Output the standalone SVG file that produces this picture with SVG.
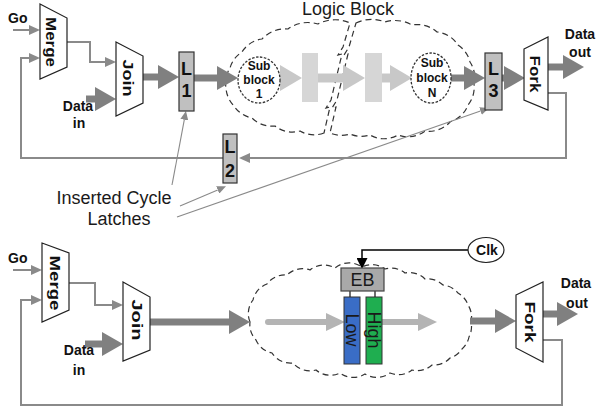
<svg xmlns="http://www.w3.org/2000/svg" width="597" height="410" viewBox="0 0 597 410">
<style>
.thin{stroke:#8a8a8a;stroke-width:2;fill:none}
.fine{stroke:#8a8a8a;stroke-width:1.1;fill:none}
.thick{stroke:#808080;stroke-width:7;fill:none}
.light{stroke:#c8c8c8;stroke-width:9;fill:none}
.light2{stroke:#b4b4b4;stroke-width:6;fill:none;stroke-linecap:round}
.shape{fill:#fff;stroke:#222;stroke-width:1.2}
.latch{fill:#c0c0c0;stroke:#333;stroke-width:1.2}
.stage{fill:#d6d6d6;stroke:none}
.cloud{fill:none;stroke:#333;stroke-width:1.2;stroke-dasharray:6 4}
.sub{fill:#fff;stroke:#333;stroke-width:1.3;stroke-dasharray:2.5 1.5}
.b{font-family:"Liberation Sans",Arial,sans-serif;font-weight:bold;font-size:14px;fill:#111}
.n{font-family:"Liberation Sans",Arial,sans-serif;font-size:18px;fill:#1a1a1a}
.sb{font-family:"Liberation Sans",Arial,sans-serif;font-weight:bold;font-size:12px;fill:#111;text-anchor:middle}
.lt{font-family:"Liberation Sans",Arial,sans-serif;font-weight:bold;font-size:18px;fill:#111;text-anchor:middle}
</style>
<defs>
<marker id="hThin" markerUnits="userSpaceOnUse" markerWidth="11" markerHeight="10" refX="0" refY="5" orient="auto" viewBox="0 0 11 10"><path d="M0,0 L11,5 L0,10 z" fill="#8a8a8a"/></marker>
<marker id="hFine" markerUnits="userSpaceOnUse" markerWidth="9" markerHeight="8" refX="0" refY="4" orient="auto" viewBox="0 0 9 8"><path d="M0,0 L9,4 L0,8 z" fill="#8a8a8a"/></marker>
<marker id="hThick" markerUnits="userSpaceOnUse" markerWidth="21" markerHeight="24" refX="0" refY="12" orient="auto" viewBox="0 0 21 24"><path d="M0,0 L21,12 L0,24 z" fill="#808080"/></marker>
<marker id="hLight" markerUnits="userSpaceOnUse" markerWidth="22" markerHeight="26" refX="0" refY="13" orient="auto" viewBox="0 0 22 26"><path d="M0,0 L22,13 L0,26 z" fill="#c8c8c8"/></marker>
<marker id="hLight2" markerUnits="userSpaceOnUse" markerWidth="19" markerHeight="18" refX="0" refY="9" orient="auto" viewBox="0 0 19 18"><path d="M0,0 L19,9 L0,18 z" fill="#b4b4b4"/></marker>
<marker id="hBlack" markerUnits="userSpaceOnUse" markerWidth="11" markerHeight="11" refX="0" refY="5.5" orient="auto" viewBox="0 0 11 11"><path d="M0,0 L11,5.5 L0,11 z" fill="#000"/></marker>
</defs>

<!-- clouds -->
<g id="logic-block-top">
<text class="n" x="302" y="15" font-size="17.5">Logic Block</text>
<path class="cloud" d="M324,133 A28,28 0 0 1 300,131 A28,28 0 0 1 275,126 A28,28 0 0 1 252,118 A28,28 0 0 1 234,106 A28,28 0 0 1 226,88 A28,28 0 0 1 230,68 A28,28 0 0 1 242,52 A28,28 0 0 1 262,39 A32,32 0 0 1 288,29 A34,34 0 0 1 318,24 A36,36 0 0 1 350,23 L343,47 L338,55 L342,54 L331,100 L326,108 L330,107 Z"/>
<path class="cloud" d="M356,23 A36,36 0 0 1 385,22 A34,34 0 0 1 412,25 A30,30 0 0 1 437,32 A28,28 0 0 1 458,45 A28,28 0 0 1 470,62 A28,28 0 0 1 474,84 A28,28 0 0 1 468,105 A28,28 0 0 1 450,122 A28,28 0 0 1 425,131 A28,28 0 0 1 398,135 A28,28 0 0 1 370,135 A28,28 0 0 1 350,134 A28,28 0 0 1 330,133 L336,107 L332,108 L337,100 L348,54 L344,55 L349,47 Z"/>
</g>
<g id="logic-block-bottom">
<path class="cloud" d="M250,322 A22,22 0 0 1 253,300 A22,22 0 0 1 267,284 A22,22 0 0 1 287,275 A22,22 0 0 1 310,270 A22,22 0 0 1 335,268 A22,22 0 0 1 362,267 A22,22 0 0 1 385,269 A22,22 0 0 1 405,273 A22,22 0 0 1 425,279 A22,22 0 0 1 443,285 A22,22 0 0 1 458,293 A22,22 0 0 1 468,305 A22,22 0 0 1 471,322 A22,22 0 0 1 469,337 A22,22 0 0 1 462,349 A22,22 0 0 1 450,358 A22,22 0 0 1 432,365 A22,22 0 0 1 412,370 A22,22 0 0 1 390,373 A22,22 0 0 1 365,374 A22,22 0 0 1 340,373 A22,22 0 0 1 316,370 A22,22 0 0 1 293,363 A22,22 0 0 1 272,353 A22,22 0 0 1 256,340 A22,22 0 0 1 250,322 Z"/>
</g>

<!-- connectors -->
<g id="connectors">
<!-- top -->
<path class="thin" d="M13,30 H29" marker-end="url(#hThin)"/>
<path class="thin" d="M548,93 H566 V158 H250" marker-end="url(#hThin)"/>
<path class="thin" d="M223,158 H21 V58 H29" marker-end="url(#hThin)"/>
<path class="thin" d="M67,42 H90 V62 H105" marker-end="url(#hThin)"/>
<path class="thick" d="M86,99 H95" marker-end="url(#hThick)"/>
<path class="thick" d="M143,77 H158" marker-end="url(#hThick)"/>
<path class="thick" d="M194,78 H217" marker-end="url(#hThick)"/>
<path class="thick" d="M451,78 H464" marker-end="url(#hThick)"/>
<path class="thick" d="M502,78 H504" marker-end="url(#hThick)"/>
<path class="thick" d="M548,67 H563" marker-end="url(#hThick)"/>
<path class="light" d="M279,78 H280" marker-end="url(#hLight)"/>
<path class="light" d="M318,78 H343" marker-end="url(#hLight)"/>
<path class="light" d="M382,78 H390" marker-end="url(#hLight)"/>
<path class="fine" d="M172,185 L184.3,119.8" marker-end="url(#hFine)"/>
<path class="fine" d="M180,206 L217.7,189.9" marker-end="url(#hFine)"/>
<path class="fine" d="M177,217 L480.5,111" marker-end="url(#hFine)"/>
<!-- bottom -->
<path class="thin" d="M13,270 H31" marker-end="url(#hThin)"/>
<path class="thin" d="M543,340 H562 V405 H21 V300 H31" marker-end="url(#hThin)"/>
<path class="thin" d="M69,283 H95 V305 H112" marker-end="url(#hThin)"/>
<path class="thick" d="M85,344 H102" marker-end="url(#hThick)"/>
<path class="thick" d="M150,322 H229" marker-end="url(#hThick)"/>
<path class="thick" d="M470,321 H495" marker-end="url(#hThick)"/>
<path class="thick" d="M543,314 H557" marker-end="url(#hThick)"/>
<path class="light2" d="M268,322 H326" marker-end="url(#hLight2)"/>
<path class="light2" d="M382,322 H418" marker-end="url(#hLight2)"/>
<path d="M468,250 H362 V258" fill="none" stroke="#000" stroke-width="1.5" marker-end="url(#hBlack)"/>
<path d="M350,291 V298 M375,291 V298" stroke="#111" stroke-width="1.2"/>
<circle cx="350" cy="298.5" r="1.8" fill="#111"/>
<circle cx="375" cy="298.5" r="1.8" fill="#111"/>
</g>

<!-- top row nodes -->
<g id="go-top"><text class="b" x="8" y="23">Go</text></g>
<g id="merge-top">
<polygon class="shape" points="40,4 67,18 67,67 40,79"/>
<text class="b" font-size="15" text-anchor="middle" textLength="50" lengthAdjust="spacingAndGlyphs" transform="translate(51,42) rotate(90)" dy="0.35em">Merge</text>
</g>
<g id="join-top">
<polygon class="shape" points="116,42 143,56 143,103 116,116"/>
<text class="b" font-size="15" text-anchor="middle" textLength="37" lengthAdjust="spacingAndGlyphs" transform="translate(128,78) rotate(90)" dy="0.35em">Join</text>
</g>
<g id="datain-top"><text class="b" x="78" y="111" text-anchor="middle">Data</text><text class="b" x="79" y="128" text-anchor="middle">in</text></g>
<g id="L1"><rect class="latch" x="179" y="52" width="15" height="59"/><text class="lt" x="186.5" y="75">L</text><text class="lt" x="186.5" y="97">1</text></g>
<g id="subblock-1">
<ellipse class="sub" cx="259" cy="80" rx="21" ry="23"/>
<text class="sb" x="259" y="70">Sub</text><text class="sb" x="259" y="84">block</text><text class="sb" x="259" y="98">1</text>
</g>
<g id="stage-1"><rect class="stage" x="302" y="53" width="16" height="49"/></g>
<g id="stage-2"><rect class="stage" x="365" y="53" width="17" height="49"/></g>
<g id="subblock-N">
<ellipse class="sub" cx="431" cy="78" rx="20" ry="25"/>
<text class="sb" x="432" y="67">Sub</text><text class="sb" x="432" y="82">block</text><text class="sb" x="432" y="97">N</text>
</g>
<g id="L3"><rect class="latch" x="485" y="53" width="17" height="57"/><text class="lt" x="493.5" y="75">L</text><text class="lt" x="493.5" y="97">3</text></g>
<g id="fork-top">
<polygon class="shape" points="524,49 548,37 548,110 524,100"/>
<text class="b" font-size="15" text-anchor="middle" textLength="37" lengthAdjust="spacingAndGlyphs" transform="translate(535,74) rotate(90)" dy="0.35em">Fork</text>
</g>
<g id="dataout-top"><text class="b" x="580" y="39" text-anchor="middle">Data</text><text class="b" x="580" y="57" text-anchor="middle">out</text></g>
<g id="L2"><rect class="latch" x="223" y="134" width="14" height="49"/><text class="lt" x="230" y="153">L</text><text class="lt" x="230" y="177">2</text></g>
<g id="inserted-label"><text class="n" x="114" y="204" text-anchor="middle">Inserted Cycle</text><text class="n" x="119" y="225" text-anchor="middle">Latches</text></g>

<!-- bottom row nodes -->
<g id="go-bottom"><text class="b" x="8" y="263">Go</text></g>
<g id="merge-bottom">
<polygon class="shape" points="42,243 69,253 69,310 42,322"/>
<text class="b" font-size="15" text-anchor="middle" textLength="55" lengthAdjust="spacingAndGlyphs" transform="translate(55,283) rotate(90)" dy="0.35em">Merge</text>
</g>
<g id="join-bottom">
<polygon class="shape" points="123,282 150,297 150,350 123,361"/>
<text class="b" font-size="15" text-anchor="middle" textLength="41" lengthAdjust="spacingAndGlyphs" transform="translate(137,320) rotate(90)" dy="0.35em">Join</text>
</g>
<g id="datain-bottom"><text class="b" x="79" y="355" text-anchor="middle">Data</text><text class="b" x="79" y="375" text-anchor="middle">in</text></g>
<g id="EB"><rect x="341" y="268" width="43" height="23" fill="#a9a9a9" stroke="#444" stroke-width="1.2"/><text class="n" x="362.5" y="286" text-anchor="middle">EB</text></g>
<g id="low"><rect x="344" y="297" width="16" height="67" fill="#3a6dc6" stroke="#333" stroke-width="1"/><text class="n" font-size="16" text-anchor="middle" transform="translate(352,330) rotate(90)" dy="0.35em">Low</text></g>
<g id="high"><rect x="366" y="297" width="16" height="67" fill="#1fae50" stroke="#333" stroke-width="1"/><text class="n" font-size="16" text-anchor="middle" transform="translate(374,330) rotate(90)" dy="0.35em">High</text></g>
<g id="clk"><ellipse cx="486" cy="250" rx="18" ry="12.5" fill="#fff" stroke="#222" stroke-width="1.2"/><text class="b" x="487" y="255" text-anchor="middle">Clk</text></g>
<g id="fork-bottom">
<polygon class="shape" points="516,295 543,282 543,362 516,348"/>
<text class="b" font-size="15" text-anchor="middle" textLength="41" lengthAdjust="spacingAndGlyphs" transform="translate(530,322) rotate(90)" dy="0.35em">Fork</text>
</g>
<g id="dataout-bottom"><text class="b" x="576" y="288" text-anchor="middle">Data</text><text class="b" x="577" y="308" text-anchor="middle">out</text></g>
</svg>
